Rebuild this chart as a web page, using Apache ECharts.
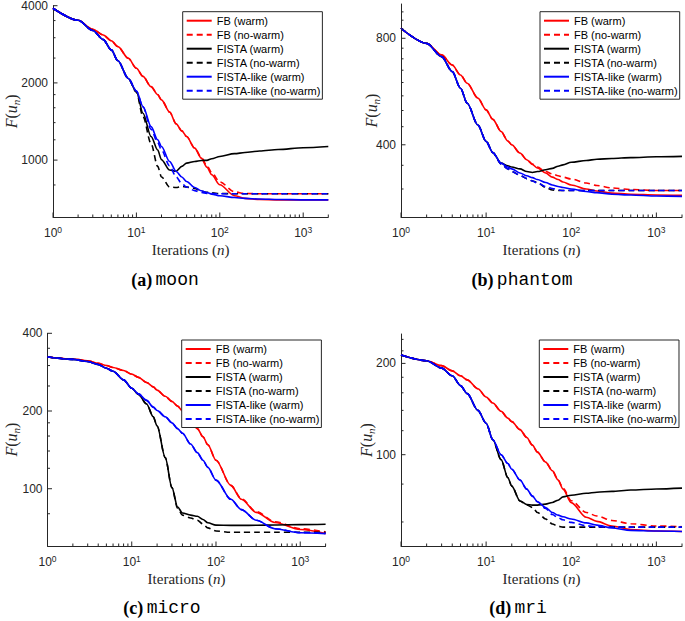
<!DOCTYPE html>
<html><head><meta charset="utf-8">
<script src="https://cdn.jsdelivr.net/npm/echarts@6/dist/echarts.min.js"></script>
<style>html,body{margin:0;padding:0;background:#fff}#c{width:685px;height:621px}</style>
</head><body><div id="c"></div>
<script>
// ---------------- data ----------------
const iterations = [1,2,3,4,5,6,8,10,12,15,18,20,25,30,35,40,50,60,70,80,100,150,200,300,500,1000,2000];
const seriesNames = ['FB (warm)','FB (no-warm)','FISTA (warm)','FISTA (no-warm)','FISTA-like (warm)','FISTA-like (no-warm)'];

// (a) moon
const moonFBWarm      = [3910,3510,3236,3076,2922,2770,2494,2281,2120,1934,1800,1717,1540,1384,1300,1236,1114,1018,939,877,801,726,709,702,700,700,700];
const moonFBNoWarm    = [3910,3510,3236,3076,2922,2770,2494,2281,2120,1934,1800,1717,1540,1384,1300,1236,1114,1025,952,893,822,752,741,739,739,739,739];
const moonFISTAWarm   = [3910,3510,3200,2950,2690,2440,2080,1850,1524,1236,1095,1003,915,905,945,973,988,997,998,1012,1033,1060,1070,1085,1100,1118,1130];
const moonFISTANoWarm = [3910,3510,3200,2950,2690,2440,2080,1840,1479,1158,945,859,785,782,790,785,775,757,749,745,741,739,739,739,739,739,739];
const moonLikeWarm    = [3910,3510,3200,2950,2690,2440,2080,1860,1618,1351,1200,1130,988,903,859,825,782,759,748,737,726,715,709,705,702,700,700];
const moonLikeNoWarm  = [3910,3510,3200,2950,2690,2440,2080,1860,1610,1320,1170,1095,950,860,810,785,760,748,742,740,739,739,739,739,739,739,739];

// (b) phantom
const phantomFBWarm      = [854,774,718,672,630,597,542,502,472,436,410,400,379,363,352,344,333,324,319,314,308,300,296,292,290,288.6,288];
const phantomFBNoWarm    = [854,774,718,672,630,597,542,502,472,436,410,400,379,363,353,346,336,331,327,324,320,312,307,302,299,297,297];
const phantomFISTAWarm   = [854,774,710,644,578,524,455,409,380,355,349,346,342,336,334,336,340,343,348,351,357,361,364,366,368,370,371];
const phantomFISTANoWarm = [854,774,710,644,578,524,455,409,380,353,342,336,328,321,316,313,303,298,297,297,297,297,297,297,297,297,297];
const phantomLikeWarm    = [854,774,710,644,578,524,455,409,380,355,346,342,333,327,323,319,313,308,305,303,300,295,293,290,288.4,286.5,286];
const phantomLikeNoWarm  = [854,774,710,644,578,524,455,409,380,353,342,336,328,321,316,312,305,301,298,297,297,297,297,297,297,297,297];

// (c) micro
const microFBWarm      = [324,318,313,306,300,295,287,278,270,258,248,241,228,218,209,200,184,171,159,148,129,103,91,81,74,69.5,67];
const microFBNoWarm    = [324,318,313,306,300,295,287,278,270,258,248,241,228,218,209,200,184,171,159,148,129,103,91.5,81.5,74.5,70,68];
const microFISTAWarm   = [324,317,311,303,293,285,264,245,232,213,190,175,132,101,85,80.5,79,78.2,76,73.8,72.3,72.1,72.1,72.2,72.4,72.6,72.8];
const microFISTANoWarm = [324,317,311,303,293,285,264,245,232,213,190,175,132,101,84,79,77,75.5,73,70.5,68.6,67.8,67.8,67.8,67.8,67.8,67.8];
const microLikeWarm    = [324,317,311,303,293,285,264,245,233,220,207,201,190,180,171,164,149,138,129,121,108,91,83,75.5,70,67.5,67];
const microLikeNoWarm  = [324,317,311,303,293,285,264,245,233,220,207,201,190,180,171,164,149,138,129,121,108,91,83,75.5,70,67.6,67.2];

// (d) mri
const mriFBWarm      = [213,204,196.6,189,182,176.5,165,155,148,139,132,128.5,121,114,107.5,102,94.5,88.5,82.5,77,69.5,62.2,60.3,58.2,56.7,56,55.8];
const mriFBNoWarm    = [213,204,196.6,189,182,176.5,165,155,148,139,132,128.5,121,114,107.5,102,94.5,88.5,82.5,77.5,70.5,64.5,62.8,60.7,59.2,58.2,57.9];
const mriFISTAWarm   = [213,204,193,182,169,159,140,127,112,96.3,84,78.8,70.4,68.5,68.2,68.2,68.7,69.6,70.8,72.6,73.5,74.6,75.2,75.7,76.5,77.1,77.6];
const mriFISTANoWarm = [213,204,193,182,169,159,140,127,112,96.3,84,78.8,70.4,68.3,67,64.5,61.4,59.1,58.1,57.7,57.7,57.7,57.7,57.7,57.7,57.7,57.7];
const mriLikeWarm    = [213,204,193,182,169,159,140,127,112,100,93.5,89.5,82.5,77,73,70,67,64.5,63.2,62.4,61.4,59.6,58.6,57.3,56.3,56,55.8];
const mriLikeNoWarm  = [213,204,193,182,169,159,140,127,112,100,93.5,89.5,82.5,77,73,70,66.5,63.5,62,61,59.8,58.3,57.9,57.7,57.7,57.7,57.7];

// ticks
const xMajorTicks = [1,10,100,1000];
const xMinorTicks = [2,3,4,5,6,7,8,9,20,30,40,50,60,70,80,90,200,300,400,500,600,700,800,900,2000];
const moonYTicks = [1000,2000,4000];
const moonYMinor = [800,1200,1400,1600,1800,2500,3000,3500];
const phantomYTicks = [400,800];
const phantomYMinor = [300,350,450,500,550,600,650,700,750,850,900,950];
const microYTicks = [100,200,400];
const microYMinor = [80,120,140,160,180,250,300,350];
const mriYTicks = [100,200];
const mriYMinor = [60,80,120,140,160,180,220,240];

// ---------------- layout / styles ----------------
const panels = [
  {letter:'(a)', title:'moon', grid:{left:48.7,top:5.7,width:279.6,height:211.3}, yRange:[600,4000], yMajor:moonYTicks, yMinor:moonYMinor, yNameGap:32, xNameGap:22, legend:{left:182.7,top:11.7}, caption:[165,280],
   data:[moonFBWarm,moonFBNoWarm,moonFISTAWarm,moonFISTANoWarm,moonLikeWarm,moonLikeNoWarm]},
  {letter:'(b)', title:'phantom', grid:{left:401,top:4,width:281.2,height:213}, yRange:[250,1000], yMajor:phantomYTicks, yMinor:phantomYMinor, yNameGap:19.5, xNameGap:22, legend:{left:540,top:11.7}, caption:[522,280],
   data:[phantomFBWarm,phantomFBNoWarm,phantomFISTAWarm,phantomFISTANoWarm,phantomLikeWarm,phantomLikeNoWarm]},
  {letter:'(c)', title:'micro', grid:{left:44,top:333.3,width:281.6,height:212.7}, yRange:[60,400], yMajor:microYTicks, yMinor:microYMinor, yNameGap:26.5, xNameGap:22, legend:{left:181.7,top:340}, caption:[162,608],
   data:[microFBWarm,microFBNoWarm,microFISTAWarm,microFISTANoWarm,microLikeWarm,microLikeNoWarm]},
  {letter:'(d)', title:'mri', grid:{left:401,top:334,width:281.2,height:212}, yRange:[50,250], yMajor:mriYTicks, yMinor:mriYMinor, yNameGap:24.5, xNameGap:22, legend:{left:539.3,top:340}, caption:[518,608],
   data:[mriFBWarm,mriFBNoWarm,mriFISTAWarm,mriFISTANoWarm,mriLikeWarm,mriLikeNoWarm]}
];
const lineStyles = [
  {color:'#ff0000', type:'solid'}, {color:'#ff0000', type:[6,4]},
  {color:'#000000', type:'solid'}, {color:'#000000', type:[6,4]},
  {color:'#0000ff', type:'solid'}, {color:'#0000ff', type:[6,4]}
];
const AX = '#262626';
const SANS = 'Liberation Sans';
const SERIF = 'Liberation Serif';

function tickRender(params, api) {
  const v0 = api.value(0), v1 = api.value(1);
  const isY = api.value(2) === 1, major = api.value(3) === 1;
  const p = api.coord([v0, v1]);
  const len = major ? 4.5 : 2.5;
  const children = [{
    type:'line',
    shape:{x1:p[0], y1:p[1], x2: isY ? p[0]+len : p[0], y2: isY ? p[1] : p[1]-len},
    style:{stroke:AX, lineWidth:1}
  }];
  if (isY && major) {
    children.push({type:'text', style:{text:String(v1), x:p[0]-5, y:p[1], align:'right', verticalAlign:'middle',
      fontSize:12, fontFamily:SANS, fill:AX}});
  }
  return {type:'group', children};
}

const option = {animation:false, grid:[], xAxis:[], yAxis:[], series:[], legend:[], graphic:[]};

panels.forEach((pn, i) => {
  option.grid.push(Object.assign({containLabel:false}, pn.grid));
  option.xAxis.push({
    type:'log', logBase:10, gridIndex:i, min:1, max:2000,
    axisLine:{show:true, onZero:false, lineStyle:{color:AX, width:1}},
    axisTick:{show:false}, splitLine:{show:false}, minorTick:{show:false},
    axisLabel:{
      margin:8, fontSize:12, fontFamily:SANS, color:AX, lineHeight:16,
      formatter: v => {
        const e = Math.log10(v), r = Math.round(e);
        return (Math.abs(e - r) < 1e-6 && v <= 1000) ? '10{sup|' + r + '}' : '';
      },
      rich:{sup:{fontSize:8.5, lineHeight:8, verticalAlign:'top', fontFamily:SANS, color:AX}}
    },
    name:'Iterations ({i|n})', nameLocation:'middle', nameGap:pn.xNameGap,
    nameTextStyle:{fontFamily:SERIF, fontSize:15, color:AX, lineHeight:17,
      rich:{i:{fontFamily:SERIF, fontStyle:'italic', fontSize:15, color:AX, lineHeight:17}}}
  });
  option.yAxis.push({
    type:'log', logBase:10, gridIndex:i, min:pn.yRange[0], max:pn.yRange[1],
    axisLine:{show:true, onZero:false, lineStyle:{color:AX, width:1}},
    axisTick:{show:false}, axisLabel:{show:false}, splitLine:{show:false}, minorTick:{show:false},
    name:'{i|F}({i|u}{s|n})', nameLocation:'middle', nameRotate:90, nameGap:pn.yNameGap,
    nameTextStyle:{fontFamily:SERIF, fontSize:16, color:AX, lineHeight:20,
      rich:{
        i:{fontFamily:SERIF, fontStyle:'italic', fontSize:16, color:AX, lineHeight:20},
        s:{fontFamily:SERIF, fontStyle:'italic', fontSize:11, color:AX, lineHeight:11, verticalAlign:'bottom'}
      }}
  });
  pn.data.forEach((arr, j) => {
    const st = lineStyles[j];
    option.series.push({
      type:'line', name:seriesNames[j], xAxisIndex:i, yAxisIndex:i,
      data: iterations.map((n, k) => [n, arr[k]]),
      symbol:'none', showSymbol:false, smooth:0.3, smoothMonotone:'x',
      lineStyle:{color:st.color, width:1.6, type:st.type},
      itemStyle:{color:st.color}, emphasis:{disabled:true}, silent:true
    });
  });
  const tickData = [];
  xMajorTicks.forEach(v => tickData.push([v, pn.yRange[0], 0, 1]));
  xMinorTicks.forEach(v => tickData.push([v, pn.yRange[0], 0, 0]));
  pn.yMajor.forEach(v => tickData.push([1, v, 1, 1]));
  pn.yMinor.forEach(v => tickData.push([1, v, 1, 0]));
  option.series.push({
    type:'custom', xAxisIndex:i, yAxisIndex:i, data:tickData, renderItem:tickRender,
    encode:{x:0, y:1}, silent:true, clip:false, z:5
  });
  option.legend.push({
    data:seriesNames, orient:'vertical', left:pn.legend.left, top:pn.legend.top,
    itemWidth:25, itemHeight:11, itemGap:3, padding:[3.5,2,3,3],
    backgroundColor:'#ffffff', borderColor:AX, borderWidth:1,
    textStyle:{fontFamily:SANS, fontSize:11, color:'#000'},
    itemStyle:{opacity:0}, selectedMode:false
  });
  option.graphic.push({
    type:'text', x:pn.caption[0], y:pn.caption[1],
    style:{
      text:'{b|' + pn.letter + '} {m|' + pn.title + '}',
      align:'center', verticalAlign:'middle', fill:'#000',
      rich:{
        b:{fontFamily:SERIF, fontWeight:'bold', fontSize:18, fill:'#000'},
        m:{fontFamily:'Liberation Mono', fontSize:18, fill:'#000'}
      }
    }
  });
});

const chart = echarts.init(document.getElementById('c'), null, {renderer:'svg'});
chart.setOption(option);
</script>
</body></html>
